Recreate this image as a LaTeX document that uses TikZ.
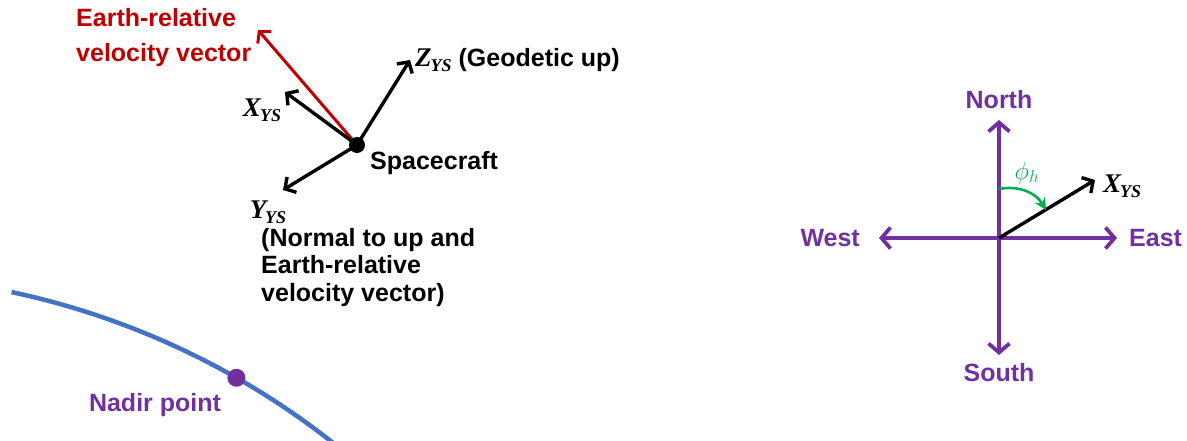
\documentclass[tikz,border=0pt]{standalone}
\usepackage{fontspec}
\setmainfont{Liberation Sans}
\newfontfamily\timesfont{Liberation Serif}
\usetikzlibrary{arrows.meta, calc, positioning}
\definecolor{compassPurple}{HTML}{7030A0}
\definecolor{velRed}{HTML}{C00000}
\definecolor{earthBlue}{HTML}{4472C4}
\definecolor{angleGreen}{HTML}{00B050}
\providecommand{\ysaxis}[1]{{\timesfont\bfseries\itshape\fontsize{27}{28}\selectfont #1\kern-1pt\raisebox{-5pt}{\fontsize{18}{18}\selectfont YS}}}
\tikzset{
  vec/.style={line width=3.4pt, -{Straight Barb[length=8pt, width=18pt]}},
  compass/.style={compassPurple, line width=3.8pt, -{Straight Barb[length=9pt, width=21pt]}},
  lbl/.style={inner sep=0pt, font=\fontsize{25}{28}\selectfont\bfseries}
}
\begin{document}
\begin{tikzpicture}[x=1pt, y=1pt]
	\useasboundingbox (0,0) rectangle (1187,441);

	% spacecraft frame
	\coordinate (sc) at (357,296);
	\coordinate (vel) at (258,411);
	\coordinate (zys) at (410,381);
	\coordinate (xys) at (285,349);
	\coordinate (yys) at (283,251);

	\draw[vec, velRed, line width=3pt] (sc) -- (vel);
	\draw[vec] (sc) -- (zys);
	\draw[vec] (sc) -- (xys);
	\draw[vec] (sc) -- (yys);
	\fill (sc) circle (8);

	\node[lbl, velRed, anchor=west, align=left, font=\fontsize{25}{35}\selectfont\bfseries] (vellbl) at (76,403) {Earth-relative\\velocity vector};
	\node[lbl, anchor=west] (zlbl) at ($ (zys)+(5,0) $) {\ysaxis{Z} (Geodetic up)};
	\node[lbl] (xlbl) at (262,331) {\ysaxis{X}};
	\node[lbl] (ylbl) at (268,229) {\ysaxis{Y}};
	\node[lbl, anchor=north west, align=left, font=\fontsize{25}{27.5}\selectfont\bfseries] (ynote) at (261,213) {(Normal to up and\\Earth-relative\\velocity vector)};
	\node[lbl, anchor=west] (sclbl) at (370,278) {Spacecraft};

	% earth surface
	\coordinate (earthc) at (-151,-616);
	\coordinate (nadir) at ($ (earthc)+(60.3:782) $);
	\draw[earthBlue, line width=4.5pt] ($ (earthc)+(78:782) $) arc[start angle=78, end angle=51.8, radius=782pt];
	\fill[compassPurple] (nadir) circle (9);
	\node[lbl, compassPurple] (nadirlbl) at (155,36) {Nadir point};

	% compass
	\coordinate (ctr) at (999,203);
	\coordinate (north) at (999,321);
	\coordinate (south) at (999,86);
	\coordinate (west) at (879,203);
	\coordinate (east) at (1117,203);
	\coordinate (xtip) at (1095,261);

	\draw[compass] (ctr) -- (north);
	\draw[compass] (ctr) -- (south);
	\draw[compass] (ctr) -- (west);
	\draw[compass] (ctr) -- (east);
	\draw[vec] (ctr) -- (xtip);

	\node[lbl, compassPurple] (nlbl) at (999,341) {North};
	\node[lbl, compassPurple] (slbl) at (999,68) {South};
	\node[lbl, compassPurple, anchor=east] (wlbl) at (860,203) {West};
	\node[lbl, compassPurple, anchor=west] (elbl) at (1129,203) {East};
	\node[lbl, anchor=west] (xclbl) at ($ (xtip)+(8,-6) $) {\ysaxis{X}};

	\coordinate (arcs) at (999,252);
	\coordinate (arce) at (1046,231);
	\draw[angleGreen, line width=2.6pt, -{Stealth[length=12pt, width=12pt]}] (arcs) to[bend left=35] (arce);
	\node[angleGreen, font=\fontsize{24}{26}\selectfont] (philbl) at (1027,268) {$\phi_h$};
\end{tikzpicture}
\end{document}
